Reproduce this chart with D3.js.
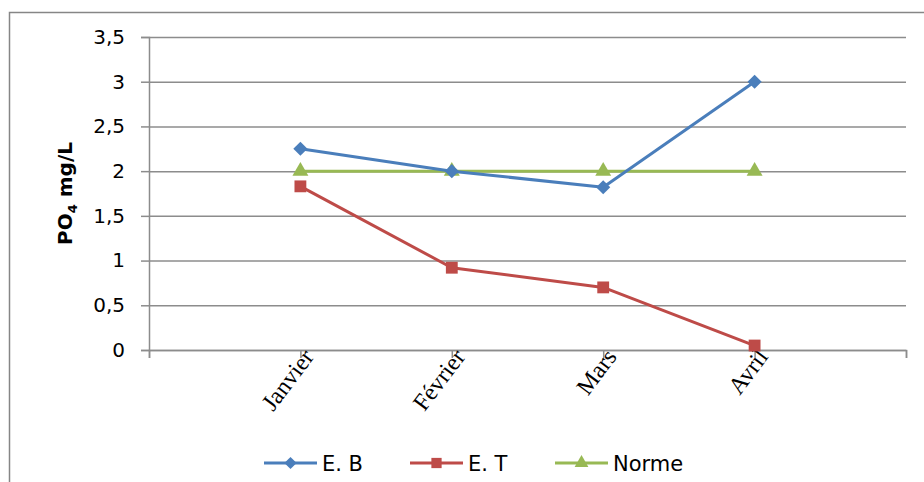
<!DOCTYPE html>
<html>
<head>
<meta charset="utf-8">
<script src="https://cdn.jsdelivr.net/npm/d3@7"></script>
<style>
  html, body { margin: 0; padding: 0; background: #fff; }
  svg { display: block; }
</style>
</head>
<body>
<svg id="chart" width="924" height="482"></svg>
<script>
// Monthly PO4 concentrations (mg/L)
const months = ["Janvier", "Février", "Mars", "Avril"];
const eb = [2.25, 2.0, 1.82, 3.0];
const et = [1.83, 0.92, 0.70, 0.05];
const norme = [2, 2, 2, 2];
const yTicks = [0, 0.5, 1, 1.5, 2, 2.5, 3, 3.5];
const seriesNames = ["E. B", "E. T", "Norme"];

const W = 924, H = 482;
const plot = { left: 149, right: 906, top: 37, bottom: 350 };

const svg = d3.select("#chart");

// outer chart frame (left and top edges visible)
svg.append("rect")
  .attr("x", 9.5).attr("y", 12.5)
  .attr("width", W + 20).attr("height", H + 20)
  .attr("fill", "none").attr("stroke", "#868686").attr("stroke-width", 1.5);

// category positions sit on the tick marks, with an empty slot at each end
const slots = ["__a", ...months, "__b"];
const x = d3.scalePoint().domain(slots).range([plot.left, plot.right]);
const y = d3.scaleLinear().domain([0, 3.5]).range([plot.bottom, plot.top]);

const fmt = v => String(v).replace(".", ",");
const gridColor = "#8c8c8c";

// horizontal gridlines + y axis
const yAxis = d3.axisLeft(y).tickValues(yTicks).tickFormat(fmt)
  .tickSize(8).tickPadding(16);
const gy = svg.append("g").attr("transform", `translate(${plot.left},0)`).call(yAxis);
gy.select(".domain").attr("stroke", gridColor).attr("stroke-width", 1.5);
gy.selectAll(".tick line").attr("stroke", gridColor).attr("stroke-width", 1.5);
gy.selectAll(".tick text")
  .attr("font-family", "DejaVu Sans").attr("font-size", 20).attr("fill", "#000");
gy.selectAll(".tick").append("line")
  .attr("x1", 0).attr("x2", plot.right - plot.left)
  .attr("stroke", gridColor).attr("stroke-width", 1.5);

// x axis with ticks at every slot
const xAxis = d3.axisBottom(x).tickSize(8).tickFormat(d => months.includes(d) ? d : "");
const gx = svg.append("g").attr("transform", `translate(0,${plot.bottom})`).call(xAxis);
gx.select(".domain").attr("stroke", gridColor).attr("stroke-width", 1.5);
gx.selectAll(".tick line").attr("stroke", gridColor).attr("stroke-width", 1.5);
gx.selectAll(".tick text").remove();
gx.selectAll(".tick").filter(d => months.includes(d))
  .append("text")
  .attr("text-anchor", "end")
  .attr("font-family", "Liberation Serif")
  .attr("font-size", 24)
  .attr("fill", "#000")
  .attr("transform", "translate(14,7) rotate(-53)")
  .text(d => d);

// y axis title with subscript
const title = svg.append("text")
  .attr("transform", `translate(72,${(plot.top + plot.bottom) / 2}) rotate(-90)`)
  .attr("text-anchor", "middle")
  .attr("font-family", "DejaVu Sans")
  .attr("font-weight", "bold")
  .attr("font-size", 20)
  .attr("fill", "#000");
title.append("tspan").text("PO");
title.append("tspan").attr("font-size", 13).attr("dy", 5).text("4");
title.append("tspan").attr("dy", -5).text(" mg/L");

const colors = ["#4A7EBB", "#BE4B48", "#98B954"];
const data = [eb, et, norme];
// diamond = square turned 45°
const markerShapes = [d3.symbolSquare, d3.symbolSquare, d3.symbolTriangle];
const markerRot = [45, 0, 0];
const markerSizes = [100, 140, 110];

const line = d3.line().x((d, i) => x(months[i])).y(d => y(d));

// draw E.T first, then Norme, then E.B on top
[1, 2, 0].forEach(s => {
  const g = svg.append("g");
  g.append("path").datum(data[s])
    .attr("d", line).attr("fill", "none")
    .attr("stroke", colors[s]).attr("stroke-width", 3)
    .attr("stroke-linejoin", "round");
  g.selectAll("path.m").data(data[s]).join("path")
    .attr("class", "m")
    .attr("transform", (d, i) => `translate(${x(months[i])},${y(d)}) rotate(${markerRot[s]})`)
    .attr("d", d3.symbol().type(markerShapes[s]).size(markerSizes[s]))
    .attr("fill", colors[s]);
});

// legend
const legendX = [264, 410, 555];
const legendY = 463;
seriesNames.forEach((name, s) => {
  const g = svg.append("g").attr("transform", `translate(${legendX[s]},${legendY})`);
  g.append("line").attr("x1", 0).attr("x2", 53)
    .attr("stroke", colors[s]).attr("stroke-width", 3);
  g.append("path").attr("transform", `translate(26.5,0) rotate(${markerRot[s]})`)
    .attr("d", d3.symbol().type(markerShapes[s]).size(markerSizes[s] * 0.75))
    .attr("fill", colors[s]);
  g.append("text").attr("x", 58).attr("dy", "0.36em")
    .attr("font-family", "DejaVu Sans").attr("font-size", 21)
    .attr("fill", "#000").text(name);
});
</script>
</body>
</html>
